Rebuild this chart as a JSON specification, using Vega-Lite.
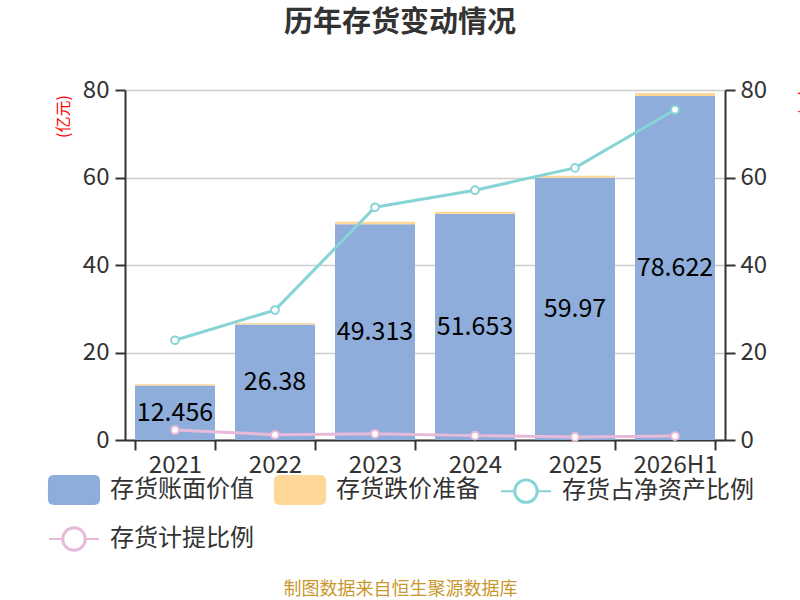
{
  "$schema": "https://vega.github.io/schema/vega-lite/v6.json",
  "width": 600,
  "height": 350,
  "autosize": {"type": "none"},
  "padding": {"left": 125, "top": 90, "right": 75, "bottom": 160},
  "background": "white",
  "title": {
    "text": "历年存货变动情况",
    "fontSize": 29,
    "fontWeight": "bold",
    "color": "#333333",
    "anchor": "middle",
    "dx": -25,
    "offset": 40
  },
  "data": {
    "values": [
      {"year": "2021", "series": "存货账面价值", "value": 12.456},
      {"year": "2021", "series": "存货跌价准备", "value": 0.29},
      {"year": "2021", "series": "存货占净资产比例", "value": 22.8},
      {"year": "2021", "series": "存货计提比例", "value": 2.3},
      {"year": "2022", "series": "存货账面价值", "value": 26.38},
      {"year": "2022", "series": "存货跌价准备", "value": 0.31},
      {"year": "2022", "series": "存货占净资产比例", "value": 29.7},
      {"year": "2022", "series": "存货计提比例", "value": 1.2},
      {"year": "2023", "series": "存货账面价值", "value": 49.313},
      {"year": "2023", "series": "存货跌价准备", "value": 0.55},
      {"year": "2023", "series": "存货占净资产比例", "value": 53.2},
      {"year": "2023", "series": "存货计提比例", "value": 1.4},
      {"year": "2024", "series": "存货账面价值", "value": 51.653},
      {"year": "2024", "series": "存货跌价准备", "value": 0.5},
      {"year": "2024", "series": "存货占净资产比例", "value": 57.1},
      {"year": "2024", "series": "存货计提比例", "value": 1.0},
      {"year": "2025", "series": "存货账面价值", "value": 59.97},
      {"year": "2025", "series": "存货跌价准备", "value": 0.42},
      {"year": "2025", "series": "存货占净资产比例", "value": 62.2},
      {"year": "2025", "series": "存货计提比例", "value": 0.7},
      {"year": "2026H1", "series": "存货账面价值", "value": 78.622},
      {"year": "2026H1", "series": "存货跌价准备", "value": 0.72},
      {"year": "2026H1", "series": "存货占净资产比例", "value": 75.5},
      {"year": "2026H1", "series": "存货计提比例", "value": 0.9}
    ]
  },
  "encoding": {
    "x": {
      "field": "year",
      "type": "nominal",
      "sort": null,
      "scale": {"paddingInner": 0.2, "paddingOuter": 0.1},
      "axis": {
        "labelAngle": 0,
        "tickBand": "extent",
        "labelPadding": 3,
        "title": "制图数据来自恒生聚源数据库",
        "titleColor": "#c8982e",
        "titleFontSize": 18,
        "titleFontWeight": "normal",
        "titleX": 275,
        "titleY": 149,
        "titleAlign": "center",
        "titleBaseline": "middle"
      }
    },
    "color": {
      "field": "series",
      "type": "nominal",
      "scale": {
        "domain": ["存货账面价值", "存货跌价准备", "存货占净资产比例", "存货计提比例"],
        "range": ["#8eaddb", "#ffd797", "#86d4d5", "#e8bad9"]
      },
      "legend": {
        "values": ["存货账面价值", "存货跌价准备", "存货占净资产比例", "存货计提比例"],
        "orient": "none",
        "direction": "horizontal",
        "legendX": -68,
        "legendY": 383,
        "columns": 3,
        "columnPadding": 16,
        "rowPadding": 15,
        "padding": 1,
        "fillColor": "white",
        "title": null,
        "labelFontSize": 24,
        "labelColor": "#333333",
        "labelOffset": 20,
        "labelLimit": 300,
        "symbolSize": 900,
        "symbolStrokeWidth": 2,
        "encode": {
          "symbols": {
            "update": {
              "shape": {"signal": "(datum.value === '存货账面价值' || datum.value === '存货跌价准备') ? 'M-1.33,-0.93L1.33,-0.93Q1.67,-0.93 1.67,-0.6L1.67,0.6Q1.67,0.93 1.33,0.93L-1.33,0.93Q-1.67,0.93 -1.67,0.6L-1.67,-0.6Q-1.67,-0.93 -1.33,-0.93Z' : 'M-1.67,0L-0.78,0M0.78,0L1.67,0M-0.78,0A0.78,0.78 0 1,1 0.78,0A0.78,0.78 0 1,1 -0.78,0ZM-0.72,0A0.72,0.72 0 1,0 0.72,0A0.72,0.72 0 1,0 -0.72,0Z'"},
              "strokeWidth": {"value": 2},
              "opacity": {"value": 1}
            }
          }
        }
      }
    }
  },
  "layer": [
    {
      "layer": [
        {
          "transform": [{"filter": "datum.series === '存货账面价值' || datum.series === '存货跌价准备'"}],
          "mark": {"type": "bar", "opacity": 1},
          "encoding": {
            "y": {
              "field": "value",
              "type": "quantitative",
              "stack": "zero",
              "scale": {"domain": [0, 80]},
              "axis": {
                "values": [0, 20, 40, 60, 80],
                "grid": true,
                "gridColor": "#cccccc",
                "gridWidth": 1.5,
                "labelPadding": 6,
                "title": "(亿元)",
                "titleColor": "#ff0000",
                "titleFontSize": 16,
                "titleFontWeight": "normal",
                "titleX": -62,
                "titleY": 26,
                "titleAlign": "center",
                "titleBaseline": "middle"
              }
            },
            "order": {"field": "series", "sort": "ascending"}
          }
        },
        {
          "transform": [{"filter": "datum.series === '存货账面价值'"}],
          "mark": {"type": "text", "fontSize": 25, "baseline": "middle"},
          "encoding": {
            "y": {
              "field": "value",
              "type": "quantitative",
              "stack": "zero",
              "bandPosition": 0.5,
              "scale": {"domain": [0, 80]},
              "axis": {
                "values": [0, 20, 40, 60, 80],
                "grid": true,
                "gridColor": "#cccccc",
                "gridWidth": 1.5,
                "labelPadding": 6,
                "title": "(亿元)",
                "titleColor": "#ff0000",
                "titleFontSize": 16,
                "titleFontWeight": "normal",
                "titleX": -62,
                "titleY": 26,
                "titleAlign": "center",
                "titleBaseline": "middle"
              }
            },
            "text": {"field": "value", "type": "nominal"},
            "color": {"value": "black"}
          }
        }
      ]
    },
    {
      "transform": [{"filter": "datum.series === '存货占净资产比例' || datum.series === '存货计提比例'"}],
      "mark": {
        "type": "line",
        "strokeWidth": 3,
        "point": {"filled": false, "fill": "white", "size": 60, "strokeWidth": 2}
      },
      "encoding": {
        "y": {
          "field": "value",
          "type": "quantitative",
          "scale": {"domain": [0, 80]},
          "axis": {
            "orient": "right",
            "values": [0, 20, 40, 60, 80],
            "grid": false,
            "labelPadding": 5,
            "title": "(%)",
            "titleColor": "#ff0000",
            "titleFontSize": 16,
            "titleFontWeight": "normal",
            "titleX": 80,
            "titleY": 12,
            "titleAlign": "center",
            "titleBaseline": "middle"
          }
        }
      }
    }
  ],
  "resolve": {"scale": {"y": "independent"}, "axis": {"y": "independent"}},
  "config": {
    "font": "Noto Sans CJK SC",
    "view": {"stroke": null},
    "axis": {
      "labelFontSize": 24,
      "labelColor": "#333333",
      "domainColor": "#333333",
      "domainWidth": 2,
      "tickColor": "#333333",
      "tickWidth": 2,
      "tickSize": 10
    }
  }
}
